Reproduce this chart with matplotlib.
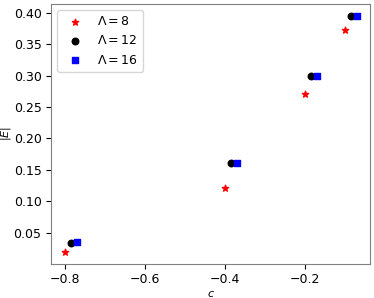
import numpy as np
import matplotlib.pyplot as plt

# values
c8 = [-0.8, -0.4, -0.2, -0.1]
E8 = [0.019, 0.121, 0.271, 0.372]
c12 = [-0.785, -0.385, -0.185, -0.085]
E12 = [0.033, 0.161, 0.300, 0.395]
c16 = [-0.77, -0.37, -0.17, -0.07]
E16 = [0.035, 0.161, 0.300, 0.395]

fig, ax = plt.subplots(figsize=(3.74, 2.98), dpi=100)
fig.subplots_adjust(left=0.137, right=0.99, top=0.987, bottom=0.115)

ax.scatter(c8, E8, marker='*', color='red', s=22, label=r'$\Lambda=8$')
ax.scatter(c12, E12, marker='o', color='black', s=22, label=r'$\Lambda=12$')
ax.scatter(c16, E16, marker='s', color='blue', s=22, label=r'$\Lambda=16$')

ax.set_xlim(-0.835, -0.0375)
ax.set_ylim(0.0007, 0.414)
ax.set_xticks([-0.8, -0.6, -0.4, -0.2])
ax.set_yticks([0.05, 0.10, 0.15, 0.20, 0.25, 0.30, 0.35, 0.40])
ax.tick_params(labelsize=9)
for s in ax.spines.values():
    s.set_color('#808080')

ax.set_xlabel(r'$c$', fontsize=8, labelpad=2)
ax.set_ylabel(r'$|E|$', fontsize=8)
ax.yaxis.set_label_coords(-0.119, 0.5)
ax.legend(loc='upper left', fontsize=9)

plt.savefig('out.png')
